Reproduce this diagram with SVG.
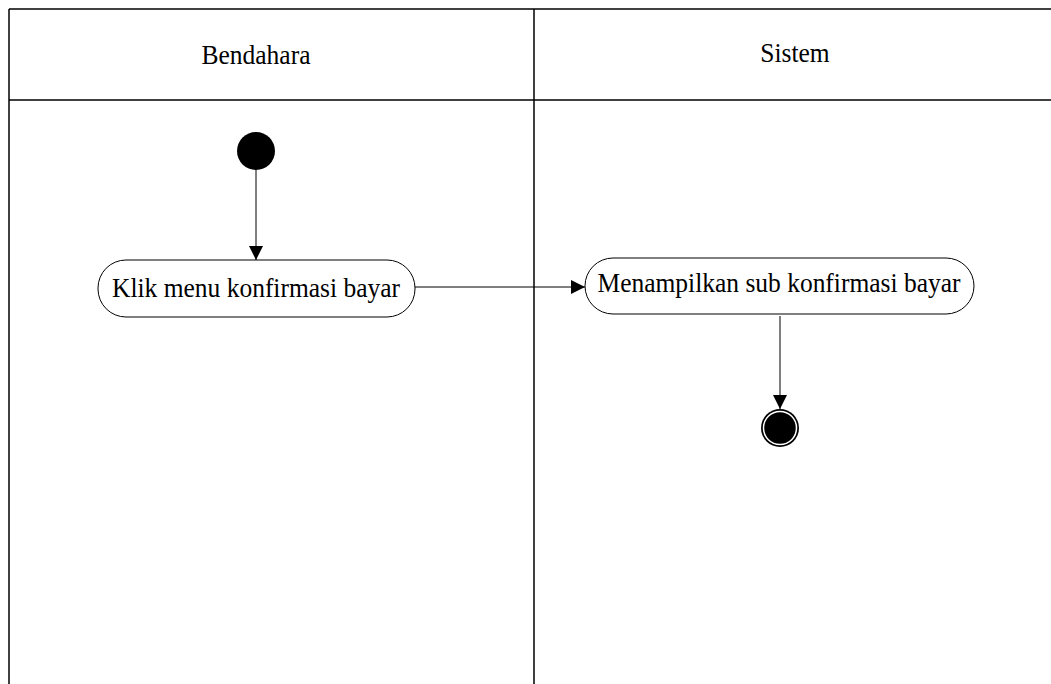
<svg xmlns="http://www.w3.org/2000/svg" width="1051" height="684" viewBox="0 0 1051 684">
<style>
.lane{stroke:#000;stroke-width:1.5;fill:none}
.t{font-family:"Liberation Serif","Times New Roman",serif;font-size:25.5px;fill:#000;text-anchor:middle}
.act{fill:#fff;stroke:#000;stroke-width:1}
.edge{stroke:#000;stroke-width:1;fill:none}
</style>
<defs>
<marker id="arr" viewBox="0 0 14 14" refX="14" refY="7" markerWidth="14" markerHeight="14" markerUnits="userSpaceOnUse" orient="auto">
<path d="M0,0 L14,7 L0,14 Z" fill="#000"/>
</marker>
</defs>
<g id="lanes">
<line class="lane" x1="9" y1="9" x2="1051" y2="9"/>
<line class="lane" x1="9" y1="100" x2="1051" y2="100"/>
<line class="lane" x1="9" y1="9" x2="9" y2="684"/>
<line class="lane" x1="534" y1="9" x2="534" y2="684"/>
<text class="t" transform="translate(256,64) scale(1,1.08)">Bendahara</text>
<text class="t" transform="translate(795,62) scale(1,1.08)">Sistem</text>
</g>
<g id="start"><circle cx="256" cy="151" r="19" fill="#000"/></g>
<g id="a1">
<rect class="act" x="98" y="260" width="317" height="57" rx="28" ry="28"/>
<text class="t" transform="translate(256,296.5) scale(1,1.08)">Klik menu konfirmasi bayar</text>
</g>
<g id="a2">
<rect class="act" x="585" y="258" width="389" height="56" rx="28" ry="28"/>
<text class="t" transform="translate(779,291.5) scale(1,1.08)">Menampilkan sub konfirmasi bayar</text>
</g>
<g id="end">
<circle cx="780" cy="428" r="19" fill="#000"/>
<circle cx="780" cy="428" r="16.5" fill="#000" stroke="#fff" stroke-width="1.5"/>
</g>
<g id="connectors">
<line class="edge" x1="256" y1="170" x2="256" y2="260" marker-end="url(#arr)"/>
<line class="edge" x1="415" y1="287" x2="585" y2="287" marker-end="url(#arr)"/>
<line class="edge" x1="780" y1="316" x2="780" y2="409" marker-end="url(#arr)"/>
</g>
</svg>
